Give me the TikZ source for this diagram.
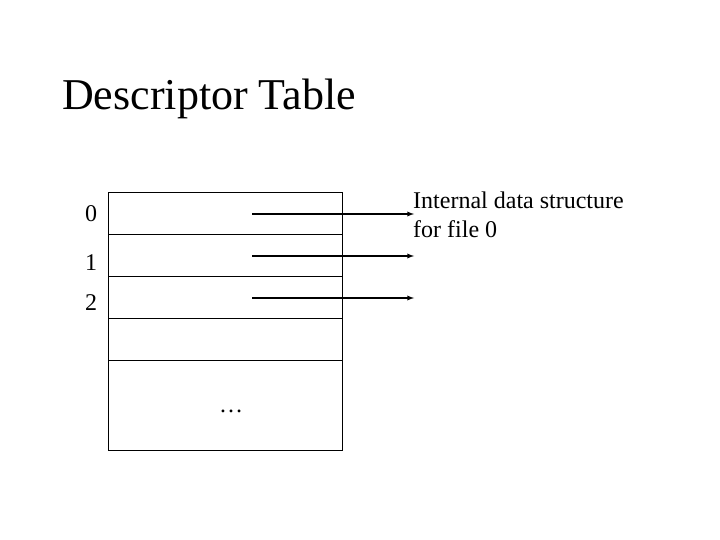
\documentclass[tikz,border=0pt]{standalone}
\usepackage{fontspec}
\setmainfont{Liberation Serif}
\usetikzlibrary{positioning, arrows}
\tikzstyle{slot} = [rectangle, draw=black, minimum width=234pt, minimum height=42pt, inner sep=0pt, outer sep=0pt]
\tikzstyle{tail} = [rectangle, draw=black, minimum width=234pt, minimum height=90pt, inner sep=0pt, outer sep=0pt]
\tikzstyle{idx} = [font=\fontsize{24}{26}\selectfont, anchor=base, inner sep=0pt]
\tikzstyle{ptr} = [->, >=latex, line width=1.3pt]

\begin{document}
\begin{tikzpicture}[x=1pt, y=-1pt]
  \useasboundingbox (0,0) rectangle (720,540);
  \node (title) [anchor=base west, font=\fontsize{44}{48}\selectfont, inner sep=0pt] at (62,110) {Descriptor Table};

  \node (r0) [slot] at (225,213) {};
  \node (r1) [slot, below=0pt of r0] {};
  \node (r2) [slot, below=0pt of r1] {};
  \node (r3) [slot, below=0pt of r2] {};
  \node (rest) [tail, below=0pt of r3] {};
  \node (dots) [anchor=base, inner sep=0pt, font=\fontsize{24}{26}\selectfont] at (231,412) {\dots};

  \node (i0) [idx] at (91,222) {0};
  \node (i1) [idx] at (91,270) {1};
  \node (i2) [idx] at (91,310) {2};

  \coordinate (s0) at (252,214);
  \coordinate (s1) at (252,256);
  \coordinate (s2) at (252,298);
  \coordinate (e0) at (414,214);
  \coordinate (e1) at (414,256);
  \coordinate (e2) at (414,298);
  \draw [ptr] (s0) -- (e0);
  \draw [ptr] (s1) -- (e1);
  \draw [ptr] (s2) -- (e2);

  \node (file) [anchor=base west, align=left, inner sep=0pt, font=\fontsize{24}{29}\selectfont] at (413,237) {Internal data structure\\for file 0};
\end{tikzpicture}
\end{document}
